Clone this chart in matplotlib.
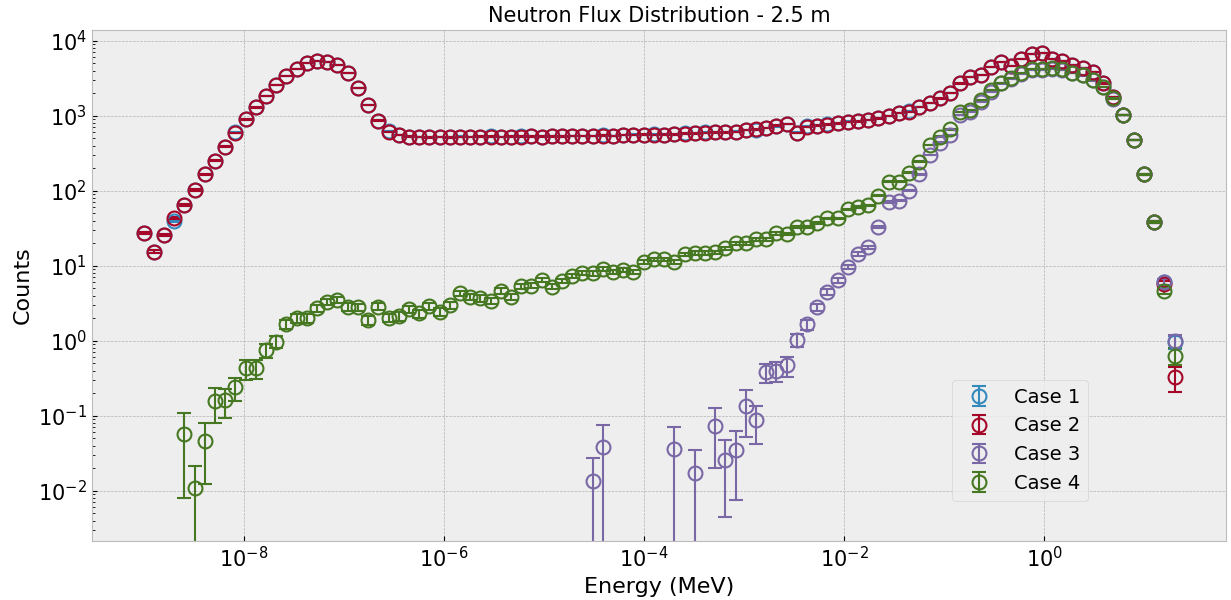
import numpy as np
import matplotlib
matplotlib.use("Agg")
import matplotlib.pyplot as plt

# energy bins: 102 log-spaced points from 1 meV-ish (1e-9 MeV) up to 20 MeV
energy = np.logspace(-9, np.log10(20.0), 102)

labels = ['Case 1', 'Case 2', 'Case 3', 'Case 4']
N = None  # empty bin

case2 = [27.5, 15.4, 25.7, 42.9, 64, 102, 166, 251, 386, 585,
         895, 1290, 1820, 2570, 3390, 4170, 5000, 5400, 5250, 4700,
         3700, 2330, 1380, 860, 610, 550, 525, 520, 515, 520,
         515, 520, 520, 525, 525, 520, 525, 525, 530, 525,
         530, 530, 535, 535, 540, 545, 540, 550, 555, 560,
         555, 560, 565, 575, 580, 590, 600, 600, 610, 650,
         660, 690, 740, 770, 590, 710, 740, 760, 790, 830,
         840, 880, 920, 990, 1080, 1130, 1300, 1490, 1700, 1990,
         2700, 3250, 3490, 4510, 5150, 4600, 5650, 6650, 6920, 5650,
         5410, 4740, 4290, 3860, 2700, 1790, 1020, 474, 167, 38,
         5.8, 0.33]
case2_err = [1.05, 0.78, 1.01, 1.31, 1.6, 2.0, 2.6, 3.2, 3.9, 4.8,
             6.0, 7.2, 8.5, 10.1, 11.6, 12.9, 14.1, 14.7, 14.5, 13.7,
             12.2, 9.7, 7.4, 5.9, 4.9, 4.7, 4.6, 4.6, 4.5, 4.6,
             4.5, 4.6, 4.6, 4.6, 4.6, 4.6, 4.6, 4.6, 4.6, 4.6,
             4.6, 4.6, 4.6, 4.6, 4.6, 4.7, 4.6, 4.7, 4.7, 4.7,
             4.7, 4.7, 4.8, 4.8, 4.8, 4.9, 4.9, 4.9, 4.9, 5.1,
             5.1, 5.3, 5.4, 5.5, 4.9, 5.3, 5.4, 5.5, 5.6, 5.8,
             5.8, 5.9, 6.1, 6.3, 6.6, 6.7, 7.2, 7.7, 8.2, 8.9,
             10.4, 11.4, 11.8, 13.4, 14.4, 13.6, 15.0, 16.3, 16.6, 15.0,
             14.7, 13.8, 13.1, 12.4, 10.4, 8.5, 6.4, 4.4, 2.6, 1.2,
             0.48, 0.12]

case1 = [27.5, 15.4, 25.7, 39.8, 64, 102, 166, 251, 386, 600,
         895, 1290, 1820, 2570, 3390, 4170, 5000, 5400, 5250, 4700,
         3700, 2330, 1380, 860, 625, 550, 525, 520, 520, 520,
         515, 525, 520, 525, 530, 520, 525, 530, 530, 525,
         540, 530, 535, 540, 540, 555, 540, 550, 560, 560,
         565, 560, 565, 580, 580, 600, 600, 605, 615, 650,
         650, 690, 720, 770, 595, 720, 740, 765, 790, 835,
         850, 880, 940, 990, 1080, 1150, 1300, 1490, 1700, 1990,
         2700, 3250, 3490, 4510, 5150, 4600, 5650, 6650, 6920, 5650,
         5410, 4740, 4290, 3860, 2700, 1790, 1020, 474, 167, 38,
         6.1, 0.97]
case1_err = [1.05, 0.78, 1.01, 1.26, 1.6, 2.0, 2.6, 3.2, 3.9, 4.9,
             6.0, 7.2, 8.5, 10.1, 11.6, 12.9, 14.1, 14.7, 14.5, 13.7,
             12.2, 9.7, 7.4, 5.9, 5.0, 4.7, 4.6, 4.6, 4.6, 4.6,
             4.5, 4.6, 4.6, 4.6, 4.6, 4.6, 4.6, 4.6, 4.6, 4.6,
             4.6, 4.6, 4.6, 4.6, 4.6, 4.7, 4.6, 4.7, 4.7, 4.7,
             4.8, 4.7, 4.8, 4.8, 4.8, 4.9, 4.9, 4.9, 5.0, 5.1,
             5.1, 5.3, 5.4, 5.5, 4.9, 5.4, 5.4, 5.5, 5.6, 5.8,
             5.8, 5.9, 6.1, 6.3, 6.6, 6.8, 7.2, 7.7, 8.2, 8.9,
             10.4, 11.4, 11.8, 13.4, 14.4, 13.6, 15.0, 16.3, 16.6, 15.0,
             14.7, 13.8, 13.1, 12.4, 10.4, 8.5, 6.4, 4.4, 2.6, 1.2,
             0.49, 0.2]

case3 = [N] * 44 + [0.0136, 0.038, N, N, N, N, N, N, 0.0356, N,
                    0.0174, N, 0.073, 0.026, 0.035, 0.135, 0.089, 0.386, 0.40, 0.47,
                    1.02, 1.65, 2.79, 4.5, 6.4, 9.7, 14.3, 17.6, 33, 71,
                    74, 100, 167, 299, 436, 553, 1020, 1130, 1540, 2090,
                    2700, 3100, 3600, 4100, 4100, 4200, 4100, 3700, 3450, 2950,
                    2400, 1690, 1020, 474, 167, 38, 6.1, 1.0]
case3_err = [N] * 44 + [0.0136, 0.038, N, N, N, N, N, N, 0.0356, N,
                        0.0174, N, 0.053, 0.0215, 0.0275, 0.083, 0.047, 0.11, 0.12, 0.14,
                        0.2, 0.26, 0.33, 0.42, 0.5, 0.62, 0.76, 0.84, 1.15, 1.7,
                        1.7, 2.0, 2.6, 3.5, 4.2, 4.7, 6.4, 6.7, 7.8, 9.1,
                        10.4, 11.1, 12.0, 12.8, 12.8, 13.0, 12.8, 12.2, 11.7, 10.9,
                        9.8, 8.2, 6.4, 4.4, 2.6, 1.2, 0.49, 0.2]

case4 = [N] * 4 + [0.058, 0.0108, 0.0465, 0.158, 0.16, 0.239,
                   0.428, 0.428, 0.75, 0.97, 1.67, 1.99, 2.0, 2.7, 3.3, 3.5,
                   2.84, 2.78, 1.89, 2.86, 2.03, 2.13, 2.62, 2.32, 2.9, 2.44,
                   2.99, 4.28, 3.87, 3.67, 3.41, 4.64, 3.86, 5.36, 5.4, 6.45,
                   5.25, 6.3, 7.3, 8.07, 7.9, 8.95, 8.3, 8.8, 8.3, 11.3,
                   12.2, 12.2, 11.3, 14.3, 14.8, 14.8, 15.2, 17.1, 19.9, 19.9,
                   22.5, 22.5, 27, 26.6, 32.5, 32.5, 36.7, 42.8, 42.8, 56.5,
                   61, 64, 86, 132, 132, 174, 244, 406, 525, 659,
                   1132, 1190, 1620, 2200, 2760, 3150, 3680, 4150, 4150, 4290,
                   4150, 3750, 3490, 2990, 2440, 1700, 1020, 474, 167, 38,
                   4.6, 0.63]
case4_err = [N] * 4 + [0.05, 0.0108, 0.034, 0.077, 0.067, 0.08,
                       0.125, 0.12, 0.16, 0.18, 0.23, 0.26, 0.26, 0.3, 0.33, 0.34,
                       0.31, 0.3, 0.25, 0.31, 0.26, 0.27, 0.29, 0.28, 0.31, 0.28,
                       0.31, 0.38, 0.36, 0.35, 0.34, 0.39, 0.36, 0.42, 0.42, 0.46,
                       0.42, 0.46, 0.49, 0.52, 0.51, 0.54, 0.52, 0.54, 0.52, 0.61,
                       0.63, 0.63, 0.61, 0.69, 0.7, 0.7, 0.71, 0.75, 0.81, 0.81,
                       0.86, 0.86, 0.94, 0.94, 1.04, 1.04, 1.1, 1.19, 1.19, 1.37,
                       1.42, 1.45, 1.7, 2.1, 2.1, 2.4, 2.8, 3.7, 4.2, 4.7,
                       6.1, 6.3, 7.3, 8.5, 9.5, 10.2, 11.0, 11.7, 11.7, 11.9,
                       11.7, 11.1, 10.7, 9.9, 9.0, 7.5, 5.8, 4.0, 2.4, 1.1,
                       0.4, 0.16]

series = [(case1, case1_err), (case2, case2_err), (case3, case3_err), (case4, case4_err)]

plt.style.use('bmh')
fig, ax = plt.subplots(figsize=(12.31, 6), dpi=100)
fig.subplots_adjust(left=0.0747, right=0.996, top=0.95, bottom=0.0983)

for (vals, errs), lab in zip(series, labels):
    y = np.array(vals, dtype=float)
    e = np.array(errs, dtype=float)
    ax.errorbar(energy, y, yerr=e, fmt='o', mfc='none', ms=10, mew=1.5,
                capsize=5, elinewidth=1.5, capthick=1.5, label=lab)

ax.set_xscale('log')
ax.set_yscale('log')
ax.set_ylim(2.14e-3, 1.39e4)
ax.set_title('Neutron Flux Distribution - 2.5 m', fontsize=15)
ax.set_xlabel('Energy (MeV)', fontsize=16)
ax.set_ylabel('Counts', fontsize=16)
ax.tick_params(which='both', direction='in', labelsize=15)
ax.legend(fontsize=14, loc='lower left', bbox_to_anchor=(0.758, 0.079), borderaxespad=0)

plt.savefig('out.png')
